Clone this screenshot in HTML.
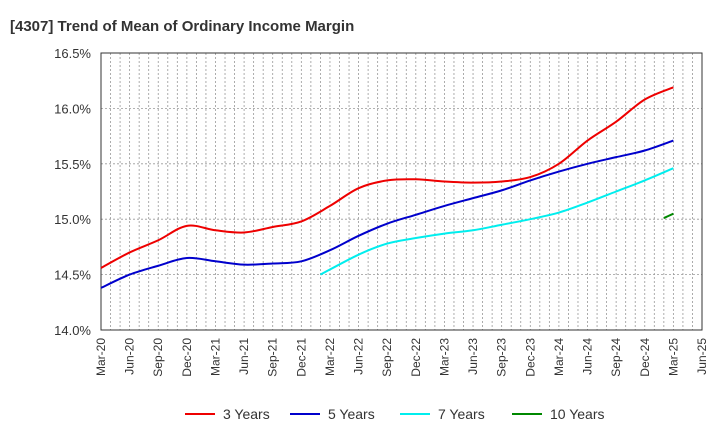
<!DOCTYPE html>
<html><head><meta charset="utf-8"><style>
body{margin:0;background:#fff;font-family:"Liberation Sans",Arial,sans-serif}
</style></head><body>
<svg id="c" width="720" height="440" xmlns="http://www.w3.org/2000/svg" font-family="Liberation Sans, Arial, sans-serif"></svg>
<script>
const xLabels=["Mar-20","Jun-20","Sep-20","Dec-20","Mar-21","Jun-21","Sep-21","Dec-21","Mar-22","Jun-22","Sep-22","Dec-22","Mar-23","Jun-23","Sep-23","Dec-23","Mar-24","Jun-24","Sep-24","Dec-24","Mar-25","Jun-25"];
const yTicks=[14.0,14.5,15.0,15.5,16.0,16.5];
const months3=[0,3,6,9,12,15,18,21,24,27,30,33,36,39,42,45,48,51,54,57,60];
const y3=[14.56,14.70,14.81,14.94,14.90,14.88,14.93,14.98,15.12,15.28,15.35,15.36,15.34,15.33,15.34,15.38,15.50,15.71,15.88,16.08,16.19];
const months5=months3;
const y5=[14.38,14.50,14.58,14.65,14.62,14.59,14.60,14.62,14.72,14.85,14.96,15.04,15.12,15.19,15.26,15.35,15.43,15.50,15.56,15.62,15.71];
const months7=[23,27,30,33,36,39,42,45,48,51,54,57,60];
const y7=[14.50,14.68,14.78,14.83,14.87,14.90,14.95,15.00,15.06,15.15,15.25,15.35,15.46];
const months10=[59,60];
const y10=[15.01,15.05];
const L=101,R=702,T=53,B=330;
const xs=m=>L+(R-L)*m/63;
const ys=v=>B-(B-T)*(v-14)/2.5;
const svg=document.getElementById('c');const NS='http://www.w3.org/2000/svg';
function mk(t,a,p){const e=document.createElementNS(NS,t);for(const k in a)e.setAttribute(k,a[k]);(p||svg).appendChild(e);return e;}
const t=mk('text',{x:10,y:31,'font-size':15,'font-weight':'bold',fill:'#333'});t.textContent='[4307]  Trend of Mean of Ordinary Income Margin';

for(let m=1;m<63;m++){const l=mk('line',{x1:xs(m),x2:xs(m),y1:T,y2:B,stroke:'#999','stroke-width':0.8,'stroke-dasharray':'2,2'});
}
yTicks.forEach(v=>{const y=ys(v);
if(v>14&&v<16.5){const g=mk('line',{x1:L,x2:R,y1:y,y2:y,stroke:'#999','stroke-width':0.8,'stroke-dasharray':'2,2'});}
const tx=mk('text',{x:91,y:y+5,'font-size':13,fill:'#333','text-anchor':'end'});tx.textContent=v.toFixed(1)+'%';
});
const fr=mk('rect',{x:L,y:T,width:R-L,height:B-T,fill:'none',stroke:'#333','stroke-width':1});

xLabels.forEach((s,i)=>{const x=xs(i*3);const tx=mk('text',{x:0,y:0,'font-size':12,fill:'#333','text-anchor':'end',transform:`translate(${x+4},${B+8}) rotate(-90)`});tx.textContent=s;
});
function path(ms,vs){const p=ms.map((m,i)=>[xs(m),ys(vs[i])]);let d=`M${p[0][0]},${p[0][1]}`;
for(let i=0;i<p.length-1;i++){const p0=p[i-1]||p[i],p1=p[i],p2=p[i+1],p3=p[i+2]||p2;
d+=` C${p1[0]+(p2[0]-p0[0])/6},${p1[1]+(p2[1]-p0[1])/6} ${p2[0]-(p3[0]-p1[0])/6},${p2[1]-(p3[1]-p1[1])/6} ${p2[0]},${p2[1]}`;}return d;}
const series=[[months3,y3,'#e00','3 Years',185],[months5,y5,'#00c','5 Years',290],[months7,y7,'#0ee','7 Years',400],[months10,y10,'#080','10 Years',512]];
series.forEach(s=>{const p=mk('path',{d:path(s[0],s[1]),fill:'none',stroke:s[2],'stroke-width':2});

const g=mk('g',{});
mk('line',{x1:s[4],x2:s[4]+30,y1:414,y2:414,stroke:s[2],'stroke-width':2},g);
const tx=mk('text',{x:s[4]+38,y:419,'font-size':14,fill:'#333'},g);tx.textContent=s[3];});
</script></body></html>
